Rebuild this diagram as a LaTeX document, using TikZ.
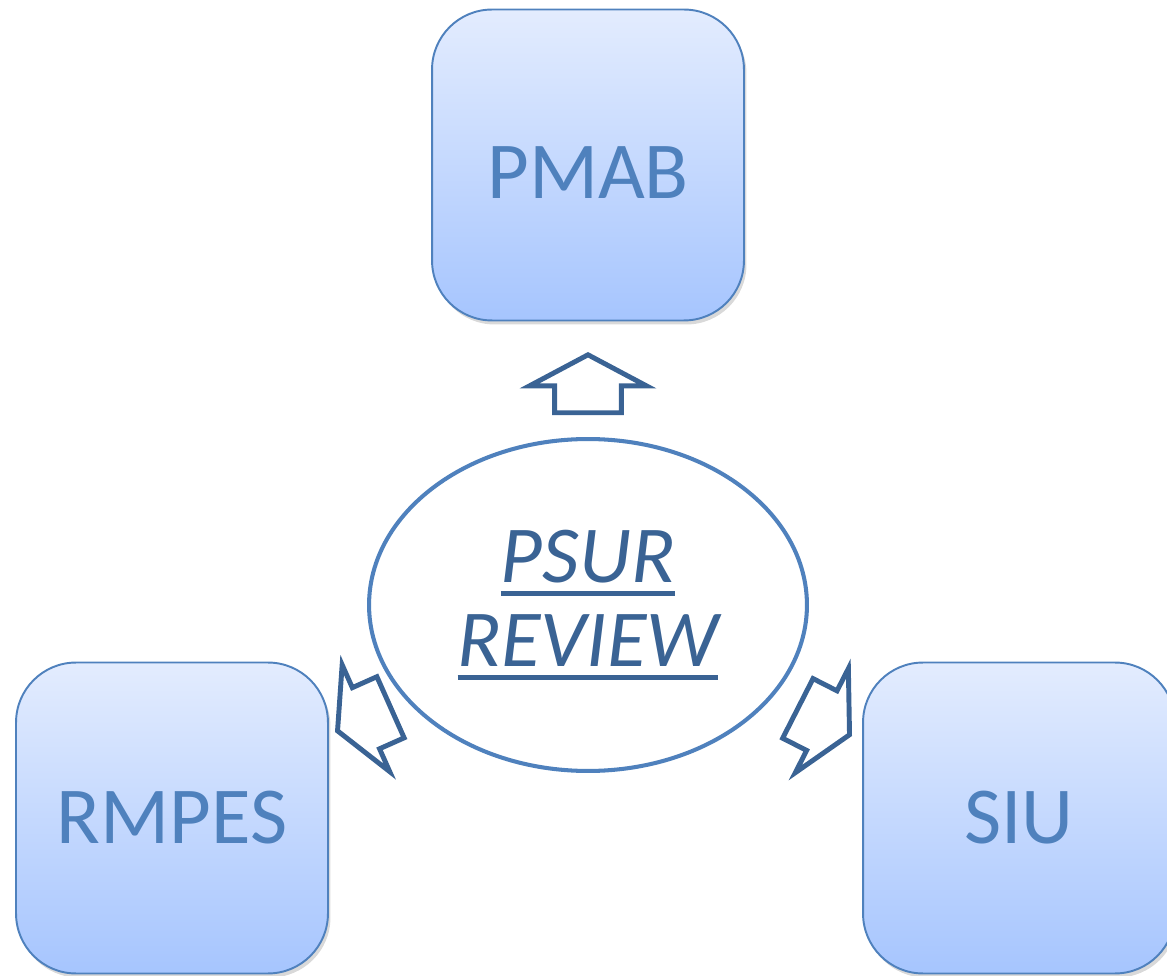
\documentclass[tikz,border=0pt]{standalone}
\usepackage{fontspec}
\setmainfont{Carlito}
\usepackage{tikz}
\usetikzlibrary{shapes.geometric,shapes.arrows,shadows}
\definecolor{boxtop}{RGB}{227,236,254}
\definecolor{boxbottom}{RGB}{166,197,254}
\definecolor{boxline}{RGB}{79,129,189}
\definecolor{darkline}{RGB}{58,99,148}
\newcommand{\psurul}[1]{\setbox0\hbox{#1}\rlap{\rule[-0.26cm]{\wd0}{0.1cm}}\box0}
\tikzstyle{team} = [rectangle, rounded corners=1.2cm, minimum width=6.24cm, minimum height=6.22cm, draw=boxline, line width=1.1pt, top color=boxtop, bottom color=boxbottom, text=boxline, font=\fontsize{46}{48}\selectfont, drop shadow={shadow xshift=0.05cm, shadow yshift=-0.08cm, opacity=0.3}]
\tikzstyle{review} = [ellipse, minimum width=8.76cm, minimum height=6.64cm, draw=boxline, line width=2.3pt, fill=white, inner sep=0pt, text=darkline, align=center, font=\fontsize{46}{48}\selectfont\itshape]
\tikzstyle{blockarrow} = [single arrow, draw=darkline, line width=2.8pt, minimum height=1.16cm, minimum width=2.24cm, single arrow head extend=0.5cm, single arrow tip angle=124, inner xsep=0pt, inner ysep=0.62cm, anchor=tip]

\begin{document}
\begin{tikzpicture}[x=0.02cm, y=-0.02cm]
    \useasboundingbox (0,0) rectangle (1167,976);
    \node (review)[review] at (588,605) {\psurul{PSUR}\\\psurul{REVIEW}};
    \node (pmab)[team, text height=1.34cm] at (588,165) {PMAB};
    \node (rmpes)[team] at (172,818) {RMPES};
    \node (siu)[team] at (1019,818) {SIU};
    \node (uparrow)[blockarrow, rotate=90] at (588,352) {};
    \node (leftarrow)[blockarrow, rotate=204] at (335,732) {};
    \node (rightarrow)[blockarrow, rotate=-27] at (852,736) {};
  \end{tikzpicture}
\end{document}
